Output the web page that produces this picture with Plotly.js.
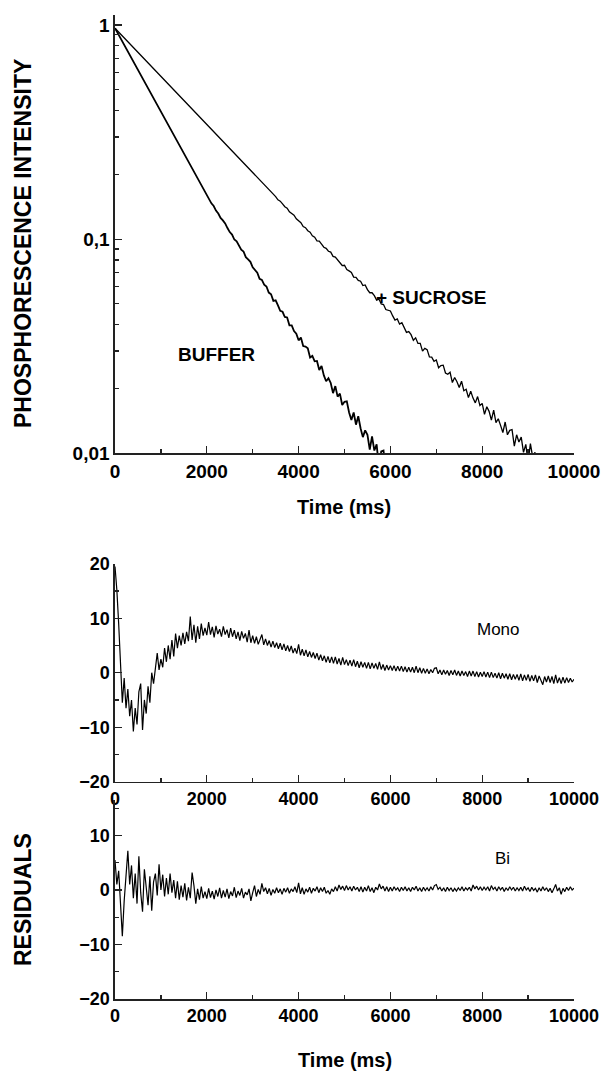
<!DOCTYPE html>
<html>
<head>
<meta charset="utf-8">
<script src="https://cdn.plot.ly/plotly-3.0.1.min.js"></script>
<style>html,body{margin:0;padding:0;background:#fff;}#chart{width:601px;height:1073px;}</style>
</head>
<body>
<div id="chart"></div>
<script>
// ---------- DATA ----------
const decayStepMs = 50;      // sampling interval of the decay traces
const residualStepMs = 40;   // sampling interval of the residual traces

const bufferIntensity = [
0.9661,0.9234,0.8827,0.8438,0.8066,0.7710,0.7370,0.7045,0.6734,0.6437,
0.6153,0.5882,0.5622,0.5374,0.5137,0.4911,0.4694,0.4487,0.4289,0.4100,
0.3919,0.3746,0.3581,0.3423,0.3272,0.3128,0.2990,0.2858,0.2732,0.2612,
0.2497,0.2387,0.2281,0.2181,0.2085,0.1993,0.1905,0.1821,0.1741,0.1664,
0.1591,0.1537,0.1470,0.1428,0.1359,0.1317,0.1256,0.1224,0.1184,0.1127,
0.1079,0.1051,0.0996,0.0977,0.0935,0.0893,0.0876,0.0824,0.0805,0.0784,
0.0739,0.0715,0.0697,0.0652,0.0645,0.0613,0.0601,0.0563,0.0553,0.0515,
0.0518,0.0491,0.0463,0.0458,0.0433,0.0431,0.0396,0.0396,0.0372,0.0362,
0.0337,0.0347,0.0317,0.0315,0.0309,0.0280,0.0285,0.0269,0.0270,0.0245,
0.0256,0.0231,0.0217,0.0224,0.0213,0.0191,0.0206,0.0184,0.0190,0.0168,
0.0174,0.0175,0.0155,0.0143,0.0155,0.0136,0.0149,0.0131,0.0119,0.0128,
0.0122,0.0104,0.0120,0.0103,0.0110,0.0086,0.0102,0.0103,0.0082,0.0088,
0.0078];

const sucroseIntensity = [
0.9661,0.9414,0.9173,0.8939,0.8710,0.8488,0.8271,0.8059,0.7853,0.7653,
0.7457,0.7266,0.7081,0.6900,0.6723,0.6551,0.6384,0.6221,0.6062,0.5907,
0.5756,0.5609,0.5466,0.5326,0.5190,0.5057,0.4928,0.4802,0.4679,0.4559,
0.4443,0.4329,0.4219,0.4111,0.4006,0.3903,0.3804,0.3706,0.3612,0.3519,
0.3429,0.3342,0.3256,0.3173,0.3092,0.3013,0.2936,0.2861,0.2788,0.2717,
0.2647,0.2580,0.2514,0.2449,0.2387,0.2326,0.2266,0.2208,0.2152,0.2097,
0.2048,0.1988,0.1948,0.1885,0.1844,0.1786,0.1753,0.1715,0.1659,0.1612,
0.1580,0.1526,0.1504,0.1460,0.1417,0.1395,0.1342,0.1318,0.1293,0.1245,
0.1216,0.1193,0.1146,0.1131,0.1095,0.1078,0.1037,0.1021,0.0982,0.0979,
0.0948,0.0917,0.0906,0.0878,0.0870,0.0831,0.0825,0.0798,0.0781,0.0753,
0.0755,0.0721,0.0711,0.0699,0.0665,0.0663,0.0642,0.0636,0.0607,0.0611,
0.0581,0.0562,0.0562,0.0545,0.0519,0.0525,0.0498,0.0495,0.0469,0.0467,
0.0462,0.0438,0.0419,0.0424,0.0401,0.0407,0.0385,0.0367,0.0370,0.0358,
0.0337,0.0346,0.0326,0.0326,0.0300,0.0309,0.0305,0.0282,0.0281,0.0269,
0.0273,0.0251,0.0257,0.0258,0.0237,0.0234,0.0239,0.0214,0.0226,0.0216,
0.0203,0.0217,0.0196,0.0199,0.0182,0.0195,0.0181,0.0172,0.0184,0.0167,
0.0171,0.0152,0.0165,0.0157,0.0143,0.0159,0.0139,0.0145,0.0135,0.0125,
0.0140,0.0122,0.0128,0.0129,0.0108,0.0122,0.0113,0.0119,0.0101,0.0110,
0.0091,0.0111,0.0096,0.0101,0.0086];

const monoResidual = [
19.5,15.2,9.0,1.5,-5.5,-1.0,-6.5,-3.0,-8.0,-5.0,
-10.8,-6.5,-9.5,-3.5,-2.0,-10.5,-5.0,-7.5,-2.5,-5.5,
0.0,-2.0,1.5,3.6,0.5,2.5,1.0,4.5,2.0,5.0,
2.5,6.0,3.0,7.2,4.5,6.8,5.0,7.3,5.3,7.5,
5.8,10.3,6.0,8.8,5.5,8.5,6.2,9.0,6.8,8.2,
6.9,9.3,7.0,8.4,6.5,8.6,7.1,8.0,6.6,8.5,
7.0,7.9,6.4,8.2,6.6,7.8,6.2,7.5,5.9,7.6,
6.3,7.2,5.6,7.8,5.5,6.8,5.4,6.6,5.2,6.2,
7.0,5.1,6.2,5.0,5.9,4.7,5.8,4.6,5.5,4.4,
5.4,4.2,5.3,4.0,5.0,3.9,4.9,3.6,4.5,3.5,
5.2,3.2,4.3,3.1,4.2,2.9,3.9,2.8,3.7,2.6,
3.6,2.3,3.3,2.2,3.1,1.9,3.0,1.8,2.9,1.7,
2.9,1.6,2.6,1.4,2.8,1.5,2.4,1.3,2.3,1.2,
2.4,1.1,2.1,0.9,2.0,1.0,1.9,0.8,1.9,0.7,
1.8,0.8,1.7,0.6,2.0,0.6,1.5,0.4,1.4,0.5,
1.3,0.4,1.3,0.3,1.2,0.3,1.2,0.2,1.1,0.1,
1.0,0.1,1.0,0.0,1.2,0.0,0.9,-0.1,0.8,-0.1,
0.7,-0.2,0.6,0.0,0.8,0.9,-0.2,0.5,-0.4,0.5,
-0.3,0.4,-0.5,0.4,-0.4,0.5,-0.5,0.3,-0.6,0.3,
-0.5,0.2,-0.7,0.3,-0.6,0.3,-0.7,0.2,-0.8,0.1,
-0.7,0.2,-0.8,0.1,-0.9,0.1,-0.9,-0.1,-1.0,0.0,
-1.1,-0.1,-1.0,-0.2,-1.2,-0.2,-1.3,-0.3,-1.2,-0.3,
-1.4,-0.2,-1.5,-0.4,-1.4,-0.3,-1.6,-0.5,-1.5,-0.4,
-1.8,-0.6,-1.6,-2.2,-0.7,-1.7,-0.6,-1.8,-0.7,-2.0,
-0.4,-1.9,-0.9,-2.0,-0.8,-1.9,-0.9,-1.8,-1.0,-1.7,
-1.2];

const biResidual = [
5.5,1.0,3.5,-4.0,-8.5,-2.0,2.5,7.2,1.0,4.5,
-1.5,3.0,-2.5,6.2,-0.5,-4.0,3.8,0.5,-2.8,2.5,
-3.8,1.5,3.0,-1.0,4.7,0.0,2.8,-1.2,2.2,-0.8,
3.0,-0.5,1.8,-1.5,1.6,-1.8,0.8,-1.3,1.2,-1.9,
0.5,-1.5,3.2,0.8,-2.5,0.2,-1.8,0.6,-1.5,-0.3,
-1.6,0.3,-1.4,-0.2,-1.7,0.0,-1.2,0.4,-1.5,-0.1,
-1.3,0.2,-1.6,-0.3,-1.1,0.5,-1.4,-0.2,-1.0,0.3,
-1.5,-0.4,-0.9,0.2,-2.0,-0.5,0.8,-1.2,0.1,-0.8,
1.2,-0.3,0.4,-0.7,0.3,-1.0,0.1,-0.6,0.4,-0.5,
0.2,-0.8,0.3,-0.4,0.4,-0.6,0.2,-0.3,0.6,-0.5,
1.3,-0.7,0.4,-0.8,0.2,-0.4,0.5,-0.6,0.3,-0.2,
0.6,-0.5,0.4,-0.3,0.5,-0.6,-0.1,-0.8,0.2,-0.3,
0.6,-0.2,0.9,0.1,0.7,-0.1,0.8,0.0,0.6,-0.2,
0.7,0.0,0.5,-0.3,0.6,-0.4,0.5,-0.2,0.8,-0.3,
0.4,-0.5,0.5,0.0,1.1,0.2,0.7,-0.2,0.6,-0.3,
0.5,-0.2,0.6,0.0,0.4,-0.3,0.5,-0.1,0.6,-0.2,
0.4,-0.3,0.5,0.0,0.7,-0.2,0.4,-0.3,0.5,-0.1,
0.4,-0.2,0.6,0.0,0.8,1.0,0.1,0.5,-0.2,0.4,
-0.3,0.5,-0.1,0.4,-0.3,0.3,-0.2,0.4,-0.1,0.6,
-0.2,0.4,0.0,0.5,-0.2,0.9,0.2,0.7,0.0,0.6,
-0.1,0.5,0.0,0.6,-0.2,0.8,0.1,0.5,-0.2,0.6,
0.0,0.5,-0.3,0.4,-0.1,0.6,0.0,0.5,-0.2,0.4,
-0.1,0.5,-0.2,0.7,0.0,0.4,-0.3,0.5,-0.1,0.3,
-0.4,0.4,-0.2,0.6,-0.1,0.4,-0.3,0.3,-0.5,0.2,
1.0,-0.2,0.4,-0.8,0.3,-0.3,0.5,-0.1,0.6,0.0,
0.3];

const xTickValues = [0, 2000, 4000, 6000, 8000, 10000];
const logTickValues = [0.01, 0.1, 1];
const logTickText = ['0,01', '0,1', '1'];
const residualTickValues = [-20, -10, 0, 10, 20];
const labels = {
  buffer: 'BUFFER', sucrose: '+ SUCROSE', mono: 'Mono', bi: 'Bi',
  intensityTitle: 'PHOSPHORESCENCE INTENSITY', residualTitle: 'RESIDUALS', timeTitle: 'Time (ms)'
};

// ---------- sampling times ----------
const bufferTime = bufferIntensity.map((_, i) => i * decayStepMs);
const sucroseTime = sucroseIntensity.map((_, i) => i * decayStepMs);
const monoTime = monoResidual.map((_, i) => i * residualStepMs);
const biTime = biResidual.map((_, i) => i * residualStepMs);

// ---------- layout helpers ----------
const W = 601, H = 1073;
const fx = p => p / W;
const fy = p => 1 - p / H;
const FONT = 'Liberation Sans, Arial, sans-serif';
const INK = '#222';

const traces = [
  {x: bufferTime, y: bufferIntensity, xaxis: 'x', yaxis: 'y', mode: 'lines', line: {color: '#000', width: 1.8}, hoverinfo: 'skip'},
  {x: sucroseTime, y: sucroseIntensity, xaxis: 'x', yaxis: 'y', mode: 'lines', line: {color: '#000', width: 1.3}, hoverinfo: 'skip'},
  {x: monoTime, y: monoResidual, xaxis: 'x2', yaxis: 'y2', mode: 'lines', line: {color: '#000', width: 1.2}, hoverinfo: 'skip'},
  {x: biTime, y: biResidual, xaxis: 'x3', yaxis: 'y3', mode: 'lines', line: {color: '#000', width: 1.2}, hoverinfo: 'skip'}
];

function axisBase(fontSize) {
  return {
    showline: true, linecolor: INK, linewidth: 1.6,
    ticks: 'inside', ticklen: 7, tickwidth: 1.3, tickcolor: INK,
    showgrid: false, zeroline: false, fixedrange: true,
    tickfont: {family: FONT, size: fontSize, color: '#000', weight: 700}
  };
}
const xDomain = [fx(115), fx(574)];
function xAxis(anchor, fontSize) {
  return Object.assign(axisBase(fontSize), {
    domain: xDomain, anchor: anchor, range: [0, 10000],
    tickmode: 'array', tickvals: xTickValues, tickformat: 'd',
    minor: {ticks: 'inside', ticklen: 4, tickwidth: 1.3, tickcolor: INK, dtick: 1000, tick0: 0}
  });
}

const layout = {
  width: W, height: H,
  margin: {l: 0, r: 0, t: 0, b: 0},
  paper_bgcolor: '#fff', plot_bgcolor: '#fff',
  showlegend: false,
  xaxis: xAxis('y', 19),
  yaxis: Object.assign(axisBase(19), {
    domain: [fy(453.3), fy(15)], anchor: 'x', type: 'log', range: [-2, 0.0467],
    tickmode: 'array', tickvals: logTickValues, ticktext: logTickText,
    minor: {ticks: 'inside', ticklen: 4, tickwidth: 1.3, tickcolor: INK, dtick: 'D1'}
  }),
  xaxis2: xAxis('y2', 18),
  yaxis2: Object.assign(axisBase(18), {
    domain: [fy(781.7), fy(563.7)], anchor: 'x2', range: [-20, 20],
    tickmode: 'array', tickvals: residualTickValues,
    minor: {ticks: 'inside', ticklen: 4, tickwidth: 1.3, tickcolor: INK, dtick: 5, tick0: 0}
  }),
  xaxis3: xAxis('y3', 18),
  yaxis3: Object.assign(axisBase(18), {
    domain: [fy(999), fy(800)], anchor: 'x3', range: [-20, 16.5],
    tickmode: 'array', tickvals: residualTickValues,
    minor: {ticks: 'inside', ticklen: 4, tickwidth: 1.3, tickcolor: INK, dtick: 5, tick0: 0}
  }),
  annotations: [
    {text: labels.intensityTitle, xref: 'paper', yref: 'paper', x: fx(23), y: fy(244), textangle: -90,
     showarrow: false, xanchor: 'center', yanchor: 'middle', font: {family: FONT, size: 23, color: '#000', weight: 700}},
    {text: labels.residualTitle, xref: 'paper', yref: 'paper', x: fx(23), y: fy(900), textangle: -90,
     showarrow: false, xanchor: 'center', yanchor: 'middle', font: {family: FONT, size: 23, color: '#000', weight: 700}},
    {text: labels.timeTitle, xref: 'paper', yref: 'paper', x: fx(344), y: fy(507),
     showarrow: false, xanchor: 'center', yanchor: 'middle', font: {family: FONT, size: 20, color: '#000', weight: 700}},
    {text: labels.timeTitle, xref: 'paper', yref: 'paper', x: fx(345), y: fy(1060),
     showarrow: false, xanchor: 'center', yanchor: 'middle', font: {family: FONT, size: 20, color: '#000', weight: 700}},
    {text: labels.buffer, xref: 'paper', yref: 'paper', x: fx(216), y: fy(354),
     showarrow: false, xanchor: 'center', yanchor: 'middle', font: {family: FONT, size: 19, color: '#000', weight: 700}},
    {text: labels.sucrose, xref: 'paper', yref: 'paper', x: fx(431), y: fy(297),
     showarrow: false, xanchor: 'center', yanchor: 'middle', font: {family: FONT, size: 19, color: '#000', weight: 700}},
    {text: labels.mono, xref: 'paper', yref: 'paper', x: fx(498), y: fy(629),
     showarrow: false, xanchor: 'center', yanchor: 'middle', font: {family: FONT, size: 17, color: '#000'}},
    {text: labels.bi, xref: 'paper', yref: 'paper', x: fx(502), y: fy(858),
     showarrow: false, xanchor: 'center', yanchor: 'middle', font: {family: FONT, size: 17, color: '#000'}}
  ]
};

Plotly.newPlot('chart', traces, layout, {staticPlot: true, displayModeBar: false});
</script>
</body>
</html>
